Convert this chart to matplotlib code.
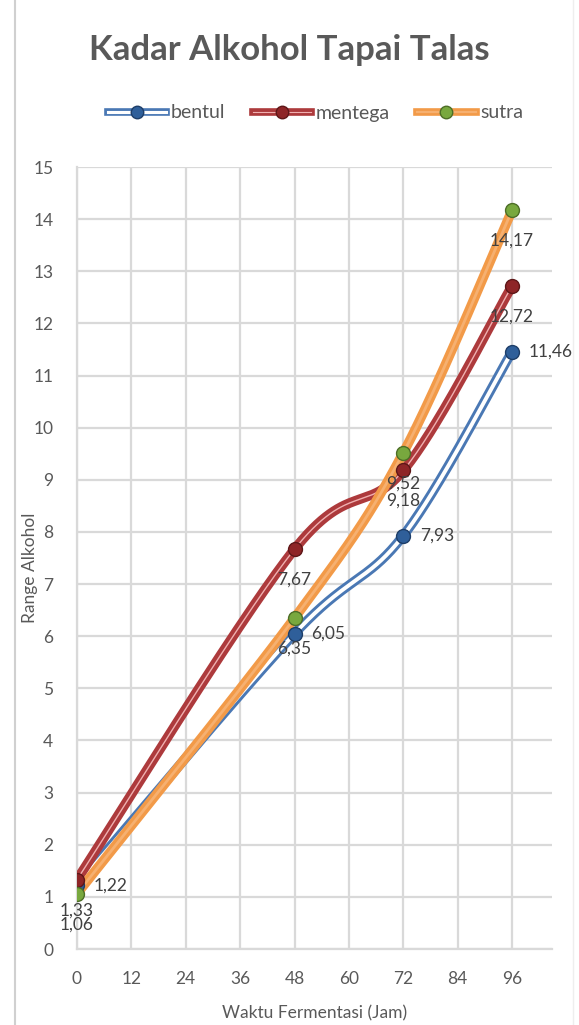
import numpy as np
import matplotlib.pyplot as plt
from matplotlib.lines import Line2D
from matplotlib.legend_handler import HandlerTuple

# Fermentation time (hours) and alcohol content per taro variety
hours = [0, 48, 72, 96]
bentul = [1.22, 6.05, 7.93, 11.46]
mentega = [1.33, 7.67, 9.18, 12.72]
sutra = [1.06, 6.35, 9.52, 14.17]
series_names = ["bentul", "mentega", "sutra"]
x_ticks = [0, 12, 24, 36, 48, 60, 72, 84, 96]
y_ticks = list(range(0, 16))

plt.rcParams['font.family'] = ['Lato', 'DejaVu Sans']
TEXT = '#595959'
GRID = '#d9d9d9'


def fmt(v):
    return f"{v:.2f}".replace(".", ",")


def smooth(xs, ys, n=60):
    """Bezier smoothing through the points (Catmull-Rom control points)."""
    pts = np.column_stack([xs, ys]).astype(float)
    out = []
    last = len(pts) - 1
    for i in range(last):
        p0 = pts[max(i - 1, 0)]
        p1 = pts[i]
        p2 = pts[i + 1]
        p3 = pts[min(i + 2, last)]
        c1 = p1 + (p2 - p0) / 6.0
        c2 = p2 - (p3 - p1) / 6.0
        t = np.linspace(0, 1, n)[:, None]
        b = (1 - t) ** 3 * p1 + 3 * (1 - t) ** 2 * t * c1 + 3 * (1 - t) * t ** 2 * c2 + t ** 3 * p2
        out.append(b if i == 0 else b[1:])
    c = np.vstack(out)
    return c[:, 0], c[:, 1]


styles = {
    "bentul": dict(outer='#4a78b4', outer_lw=7, inner='white', inner_lw=2.8,
                   mface='#2f5f9a', medge='#1e3e68', label='right'),
    "mentega": dict(outer='#ad3a3c', outer_lw=7, inner='#f0b0b0', inner_lw=1.0,
                    mface='#8e2527', medge='#5e1718', label='below'),
    "sutra": dict(outer='#f29a48', outer_lw=7, inner='#f6b070', inner_lw=2.0,
                  mface='#78a83e', medge='#4d6e27', label='below'),
}
data = {"bentul": bentul, "mentega": mentega, "sutra": sutra}

fig = plt.figure(figsize=(5.79, 10.25), dpi=100)
ax = fig.add_axes([77 / 579, 1 - 949 / 1025, (552 - 77) / 579, (949 - 167) / 1025])

# chart border lines at the figure edges
fig.add_artist(Line2D([15 / 579, 15 / 579], [0, 1], color='#d0d0d0', lw=1.5))
fig.add_artist(Line2D([573 / 579, 573 / 579], [0, 1], color='#eeeeee', lw=1.0))

ax.set_xlim(0, 104.8)
ax.set_ylim(0, 15)
ax.set_xticks(x_ticks)
ax.set_yticks(y_ticks)
ax.grid(True, color=GRID, lw=1.6)
ax.set_axisbelow(True)
for s in ['top', 'right']:
    ax.spines[s].set_visible(False)
for s in ['left', 'bottom']:
    ax.spines[s].set_color(GRID)
    ax.spines[s].set_linewidth(1.6)
ax.tick_params(length=0, labelsize=12.5, colors=TEXT)
ax.tick_params(axis='y', pad=17)
ax.tick_params(axis='x', pad=16)

handles = []
for name in series_names:
    st = styles[name]
    ys = data[name]
    sx, sy = smooth(hours, ys)
    ax.plot(sx, sy, color=st['outer'], lw=st['outer_lw'], solid_capstyle='round', zorder=3)
    ax.plot(sx, sy, color=st['inner'], lw=st['inner_lw'], solid_capstyle='round', zorder=3)
    ax.plot(hours, ys, 'o', ms=10, mfc=st['mface'], mec=st['medge'], mew=1.0, zorder=4)
    h = (Line2D([], [], color=st['outer'], lw=5.5),
         Line2D([], [], color=st['inner'], lw=st['inner_lw'] * 0.8),
         Line2D([], [], marker='o', ls='', ms=9, mfc=st['mface'], mec=st['medge']))
    handles.append(h)

# data labels
for name in series_names:
    st = styles[name]
    for x, y in zip(hours, data[name]):
        if st['label'] == 'right':
            ax.annotate(fmt(y), (x, y), xytext=(12, 0), textcoords='offset points',
                        ha='left', va='center', fontsize=12.5, color='#404040', zorder=6)
        else:
            ax.annotate(fmt(y), (x, y), xytext=(0, -22), textcoords='offset points',
                        ha='center', va='center', fontsize=12.5, color='#404040', zorder=6)

ax.set_xlabel("Waktu Fermentasi (Jam)", fontsize=12.5, color=TEXT)
ax.xaxis.set_label_coords(0.5, -0.072)
ax.set_ylabel("Range Alkohol", fontsize=12.5, color=TEXT)
ax.yaxis.set_label_coords(-0.083, 0.488)

fig.text(0.5, 1 - 50 / 1025, "Kadar Alkohol Tapai Talas", ha='center', va='center',
         fontsize=25, fontweight='bold', color=TEXT)

fig.legend(handles, series_names, loc='center', bbox_to_anchor=(0.545, 1 - 113 / 1025),
           ncol=3, frameon=False, fontsize=14, labelcolor=TEXT,
           handler_map={tuple: HandlerTuple(ndivide=1)}, handlelength=3.0,
           handletextpad=0.25, columnspacing=1.4)

fig.savefig("out.png", dpi=100)
